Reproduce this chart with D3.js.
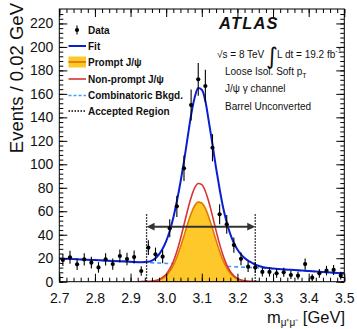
<!DOCTYPE html>
<html>
<head>
<meta charset="utf-8">
<script src="https://cdn.jsdelivr.net/npm/d3@7"></script>
<style>
body { margin: 0; background: #fff; }
svg { font-family: "Liberation Sans", Arial, Helvetica, sans-serif; }
</style>
</head>
<body>
<svg width="357" height="329"></svg>
<script>
// values
var binCenters = [2.71, 2.73, 2.75, 2.77, 2.79, 2.81, 2.83, 2.85, 2.87, 2.89,
                  2.91, 2.93, 2.95, 2.97, 2.99, 3.01, 3.03, 3.05, 3.07, 3.09,
                  3.11, 3.13, 3.15, 3.17, 3.19, 3.21, 3.23, 3.25, 3.27, 3.29,
                  3.31, 3.33, 3.35, 3.37, 3.39, 3.41, 3.43, 3.45, 3.47, 3.49];
var counts = [18.5, 20.8, 14.8, 19.0, 16.2, 12.2, 19.0, 15.0, 21.9, 19.3,
              21.0, 9.1, 29.0, 23.3, 21.3, 45.5, 64.2, 96.6, 150.5, 172.4,
              166.7, 114.1, 57.4, 48.9, 31.2, 19.5, 12.8, 12.2, 8.3, 8.3,
              7.1, 8.0, 5.7, 5.1, 15.0, 3.4, 7.1, 9.4, 10.0, 5.1];
var countErrs = [5.2, 5.5, 4.8, 5.3, 5.0, 4.5, 5.3, 4.8, 5.6, 5.3,
                 5.5, 4.0, 6.3, 5.8, 5.6, 7.7, 9.0, 10.8, 13.2, 14.0,
                 13.8, 11.6, 8.5, 8.0, 6.5, 5.4, 4.6, 4.5, 3.9, 3.9,
                 3.7, 3.8, 3.4, 3.3, 4.8, 2.9, 3.7, 4.1, 4.2, 3.3];

var fitMass = [2.70, 2.75, 2.80, 2.85, 2.90, 2.93, 2.95, 2.96, 2.97, 2.98,
               2.99, 3.00, 3.01, 3.02, 3.03, 3.04, 3.05, 3.06, 3.07, 3.08,
               3.09, 3.10, 3.11, 3.12, 3.13, 3.14, 3.15, 3.16, 3.17, 3.18,
               3.19, 3.20, 3.21, 3.22, 3.23, 3.24, 3.25, 3.27, 3.30, 3.35,
               3.40, 3.45, 3.50];
var fitVals = [19.8, 19.1, 18.4, 17.7, 17.0, 16.6, 16.9, 17.9, 20.0, 23.3,
               28.0, 34.6, 43.2, 54.5, 68.5, 84.5, 102.5, 122.5, 142, 157,
               165, 163.5, 154, 136, 117, 97, 79, 63, 50.5, 40.5,
               33, 27.5, 23.3, 20.2, 17.9, 16.2, 14.6, 12.6, 11.2, 10.1,
               9.05, 8.0, 7.0];

var bkgMass = [2.70, 2.80, 2.90, 3.00, 3.10, 3.20, 3.30, 3.40, 3.50];
var bkgVals = [19.8, 18.4, 17.0, 15.6, 14.2, 12.6, 11.0, 9.0, 7.0];

var sigMass = [2.92, 2.93, 2.94, 2.95, 2.96, 2.97, 2.98, 2.99, 3.00, 3.01,
               3.02, 3.03, 3.04, 3.05, 3.06, 3.07, 3.08, 3.09, 3.10, 3.11,
               3.12, 3.13, 3.14, 3.15, 3.16, 3.17, 3.18, 3.19, 3.20, 3.21,
               3.22, 3.23, 3.24, 3.25, 3.26];
var promptVals = [0, 0.02, 0.06, 0.16, 0.35, 0.75, 1.5, 2.9, 5.2, 8.8,
                  13.9, 20.9, 29.5, 39.2, 49.2, 58.1, 64.7, 67.8, 67.0, 62.4,
                  54.7, 45.3, 35.3, 25.9, 17.9, 11.7, 7.2, 4.1, 2.3, 1.2,
                  0.56, 0.26, 0.1, 0.05, 0];
var nonPromptVals = [0, 0.03, 0.07, 0.2, 0.43, 0.93, 1.9, 3.6, 6.4, 10.9,
                     17.2, 25.8, 36.4, 48.5, 60.7, 71.7, 79.9, 83.7, 82.7, 77.1,
                     67.6, 55.9, 43.5, 32.0, 22.1, 14.4, 8.8, 5.1, 2.8, 1.4,
                     0.7, 0.3, 0.13, 0.06, 0];

var regionLow = 2.945, regionHigh = 3.25, regionTop = 57.5, arrowLevel = 46.9;

var xTicks = [2.7, 2.8, 2.9, 3.0, 3.1, 3.2, 3.3, 3.4, 3.5];
var yTicks = [0, 20, 40, 60, 80, 100, 120, 140, 160, 180, 200, 220];

var legendLabels = ["Data", "Fit", "Prompt J/\u03c8", "Non-prompt J/\u03c8", "Combinatoric Bkgd.", "Accepted Region"];


function main() {
    var svg = d3.select("svg");
    var left = 59.3, right = 344.3, top = 9, bottom = 281.7;

    var x = d3.scaleLinear().domain([2.7, 3.5]).range([left, right]);
    var y = d3.scaleLinear().domain([0, 232.3]).range([bottom, top]);

    svg.append("defs").append("clipPath").attr("id", "plotclip")
        .append("rect").attr("x", left).attr("y", top)
        .attr("width", right - left).attr("height", bottom - top);

    var plot = svg.append("g").attr("clip-path", "url(#plotclip)");

    // combinatoric background (sits under the signal fill)
    plot.append("path")
        .datum(bkgMass.map(function(m, i) { return [m, bkgVals[i]]; }))
        .attr("fill", "none")
        .attr("stroke", "#3f9bff")
        .attr("stroke-width", 1.6)
        .attr("stroke-dasharray", "4,3")
        .attr("d", d3.line().curve(d3.curveMonotoneX)
            .x(function(d) { return x(d[0]); })
            .y(function(d) { return y(d[1]); }));

    // prompt J/psi (filled)
    var sigPts = sigMass.map(function(m, i) { return {m: m, p: promptVals[i], n: nonPromptVals[i]}; });
    plot.append("path")
        .datum(sigPts)
        .attr("fill", "#ffc82a")
        .attr("stroke", "#e07a00")
        .attr("stroke-width", 1.6)
        .attr("d", d3.area().curve(d3.curveMonotoneX)
            .x(function(d) { return x(d.m); })
            .y0(y(0))
            .y1(function(d) { return y(d.p); }));

    // non-prompt J/psi
    plot.append("path")
        .datum(sigPts)
        .attr("fill", "none")
        .attr("stroke", "#d93434")
        .attr("stroke-width", 1.6)
        .attr("d", d3.line().curve(d3.curveMonotoneX)
            .x(function(d) { return x(d.m); })
            .y(function(d) { return y(d.n); }));

    // fit
    plot.append("path")
        .datum(fitMass.map(function(m, i) { return [m, fitVals[i]]; }))
        .attr("fill", "none")
        .attr("stroke", "#0a1fd0")
        .attr("stroke-width", 2)
        .attr("d", d3.line().curve(d3.curveMonotoneX)
            .x(function(d) { return x(d[0]); })
            .y(function(d) { return y(d[1]); }));

    // accepted region
    [regionLow, regionHigh].forEach(function(m) {
        plot.append("line")
            .attr("x1", x(m)).attr("x2", x(m))
            .attr("y1", y(0)).attr("y2", y(regionTop))
            .attr("stroke", "#000")
            .attr("stroke-width", 1.3)
            .attr("stroke-dasharray", "1.5,1.5");
    });

    var ay = y(arrowLevel), ax1 = x(regionLow), ax2 = x(regionHigh);
    plot.append("line")
        .attr("x1", ax1 + 4).attr("x2", ax2 - 4)
        .attr("y1", ay).attr("y2", ay)
        .attr("stroke", "#333").attr("stroke-width", 2);
    plot.append("path")
        .attr("fill", "#333")
        .attr("d", "M" + ax1 + "," + ay + "L" + (ax1 + 8) + "," + (ay - 3.8) + "L" + (ax1 + 8) + "," + (ay + 3.8) + "Z" +
                   "M" + ax2 + "," + ay + "L" + (ax2 - 8) + "," + (ay - 3.8) + "L" + (ax2 - 8) + "," + (ay + 3.8) + "Z");

    // data
    var pts = svg.append("g").selectAll("g")
        .data(binCenters.map(function(m, i) { return {m: m, v: counts[i], e: countErrs[i]}; }))
        .enter().append("g");
    pts.append("line")
        .attr("x1", function(d) { return x(d.m); })
        .attr("x2", function(d) { return x(d.m); })
        .attr("y1", function(d) { return y(Math.max(0, d.v - d.e)); })
        .attr("y2", function(d) { return y(d.v + d.e); })
        .attr("stroke", "#000").attr("stroke-width", 1.1);
    pts.append("circle")
        .attr("cx", function(d) { return x(d.m); })
        .attr("cy", function(d) { return y(d.v); })
        .attr("r", 2.1)
        .attr("fill", "#000");

    // axes, ticks inside the frame
    function clean(g) {
        g.select(".domain").remove();
        g.selectAll("text").attr("fill", "#111").style("font-size", "14px")
            .style("font-family", '"Liberation Sans", Arial, sans-serif');
        g.selectAll("line").attr("stroke", "#000");
    }
    var fmt = d3.format(".1f");
    svg.append("g").attr("transform", "translate(0," + bottom + ")")
        .call(d3.axisBottom(x).tickValues(xTicks).tickSize(-8).tickPadding(11).tickFormat(fmt)).call(clean);
    svg.append("g").attr("transform", "translate(0," + bottom + ")")
        .call(d3.axisBottom(x).ticks(40).tickSize(-4).tickFormat("")).call(clean);
    svg.append("g").attr("transform", "translate(0," + top + ")")
        .call(d3.axisTop(x).tickValues(xTicks).tickSize(-8).tickFormat("")).call(clean);
    svg.append("g").attr("transform", "translate(0," + top + ")")
        .call(d3.axisTop(x).ticks(40).tickSize(-4).tickFormat("")).call(clean);

    svg.append("g").attr("transform", "translate(" + left + ",0)")
        .call(d3.axisLeft(y).tickValues(yTicks).tickSize(-8).tickPadding(6)).call(clean);
    svg.append("g").attr("transform", "translate(" + left + ",0)")
        .call(d3.axisLeft(y).tickValues(d3.range(0, 232, 4)).tickSize(-4).tickFormat("")).call(clean);
    svg.append("g").attr("transform", "translate(" + right + ",0)")
        .call(d3.axisRight(y).tickValues(yTicks).tickSize(-8).tickFormat("")).call(clean);
    svg.append("g").attr("transform", "translate(" + right + ",0)")
        .call(d3.axisRight(y).tickValues(d3.range(0, 232, 4)).tickSize(-4).tickFormat("")).call(clean);

    svg.append("rect")
        .attr("x", left).attr("y", top)
        .attr("width", right - left).attr("height", bottom - top)
        .attr("fill", "none").attr("stroke", "#000").attr("stroke-width", 1);

    // axis titles
    svg.append("text")
        .attr("transform", "translate(22.5,3) rotate(-90)")
        .attr("text-anchor", "end")
        .attr("font-size", "18.5px")
        .attr("fill", "#111")
        .text("Events / 0.02 GeV");

    var xt = svg.append("text")
        .attr("x", 345).attr("y", 323)
        .attr("text-anchor", "end")
        .attr("font-size", "16.5px")
        .attr("fill", "#111");
    xt.append("tspan").text("m");
    xt.append("tspan").attr("font-size", "10px").attr("dy", 3).text("\u03bc\u207a\u03bc\u207b");
    xt.append("tspan").attr("dy", -3).text(" [GeV]");

    // legend
    var lx = 77, ltx = 88;
    var rows = [30, 46, 62, 79, 95.5, 111];
    var leg = svg.append("g");
    leg.selectAll("text").data(legendLabels).enter().append("text")
        .attr("x", ltx)
        .attr("y", function(d, i) { return rows[i] + 3.6; })
        .attr("font-size", "10px")
        .attr("font-weight", "bold")
        .attr("fill", "#111")
        .text(function(d) { return d; });

    leg.append("line").attr("x1", lx).attr("x2", lx).attr("y1", rows[0] - 4.5).attr("y2", rows[0] + 4.5)
        .attr("stroke", "#000").attr("stroke-width", 1.1);
    leg.append("circle").attr("cx", lx).attr("cy", rows[0]).attr("r", 2.1).attr("fill", "#000");
    leg.append("line").attr("x1", 68.5).attr("x2", 86).attr("y1", rows[1]).attr("y2", rows[1])
        .attr("stroke", "#0a1fd0").attr("stroke-width", 2);
    leg.append("rect").attr("x", 68.5).attr("y", rows[2] - 5.5).attr("width", 17.5).attr("height", 11)
        .attr("fill", "#ffc82a");
    leg.append("line").attr("x1", 68.5).attr("x2", 86).attr("y1", rows[2]).attr("y2", rows[2])
        .attr("stroke", "#e07a00").attr("stroke-width", 1.8);
    leg.append("line").attr("x1", 68.5).attr("x2", 86).attr("y1", rows[3]).attr("y2", rows[3])
        .attr("stroke", "#d93434").attr("stroke-width", 1.6);
    leg.append("line").attr("x1", 68.5).attr("x2", 86).attr("y1", rows[4]).attr("y2", rows[4])
        .attr("stroke", "#3f9bff").attr("stroke-width", 1.6).attr("stroke-dasharray", "3,2");
    leg.append("line").attr("x1", 68.5).attr("x2", 86).attr("y1", rows[5]).attr("y2", rows[5])
        .attr("stroke", "#000").attr("stroke-width", 1.3).attr("stroke-dasharray", "1.5,1.5");

    // ATLAS label block
    svg.append("text")
        .attr("x", 219).attr("y", 29)
        .attr("font-size", "16.5px")
        .attr("font-weight", "bold")
        .attr("font-style", "italic")
        .attr("letter-spacing", "1.2px")
        .attr("fill", "#111")
        .text("ATLAS");

    svg.append("text").attr("x", 217).attr("y", 58.3).attr("font-size", "10px").attr("fill", "#111")
        .text("\u221as = 8 TeV");
    svg.append("text").attr("x", 266).attr("y", 63.5).attr("font-size", "23px").attr("fill", "#111")
        .style("font-family", '"DejaVu Sans", sans-serif')
        .text("\u222b");
    var lum = svg.append("text").attr("x", 277).attr("y", 58.3).attr("font-size", "10px").attr("fill", "#111");
    lum.append("tspan").text("L dt = 19.2 fb");
    lum.append("tspan").attr("font-size", "7px").attr("dy", -5).text("-1");

    var pt = svg.append("text").attr("x", 225).attr("y", 75.3).attr("font-size", "10px").attr("fill", "#111");
    pt.append("tspan").text("Loose Isol. Soft p");
    pt.append("tspan").attr("font-size", "7px").attr("dy", 2.5).text("T");
    svg.append("text").attr("x", 225).attr("y", 92.3).attr("font-size", "10px").attr("fill", "#111")
        .text("J/\u03c8 \u03b3 channel");
    svg.append("text").attr("x", 225).attr("y", 109.8).attr("font-size", "10px").attr("fill", "#111")
        .text("Barrel Unconverted");
}

main();
</script>
</body>
</html>
